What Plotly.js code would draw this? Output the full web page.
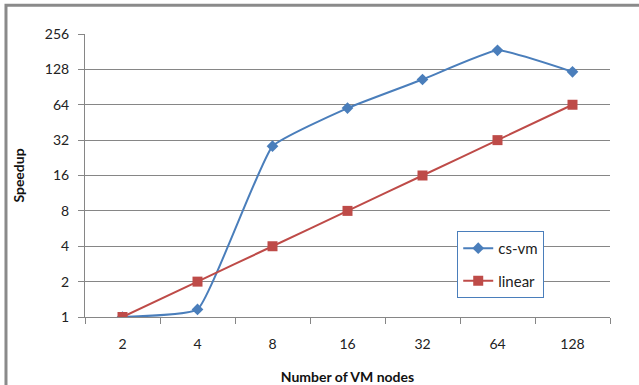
<!DOCTYPE html>
<html><head><meta charset="utf-8">
<script src="https://cdn.plot.ly/plotly-3.0.1.min.js"></script>
<style>body{margin:0;background:#fff}#c{width:639px;height:385px}</style>
</head><body><div id="c"></div>
<script>
var categories = ["2","4","8","16","32","64","128"];
var csvm = [1, 1.16, 28.4, 60, 105, 186, 122];
var linear = [1, 2, 4, 8, 16, 32, 64];
var yTicks = [1, 2, 4, 8, 16, 32, 64, 128, 256];

var traces = [
  {x: categories, y: csvm, name: "cs-vm", legendgroup: "a", type: "scatter", mode: "lines+markers",
   line: {color: "#4A7EBB", width: 2, shape: "spline", smoothing: 0.35},
   marker: {symbol: "diamond", size: 9, color: "#4A7EBB"}},
  {x: categories, y: linear, name: "linear", legendgroup: "b", type: "scatter", mode: "lines+markers",
   line: {color: "#BE4B48", width: 2, shape: "spline", smoothing: 0.35},
   marker: {symbol: "square", size: 10, color: "#BE4B48"}}
];

var layout = {
  width: 639, height: 385,
  margin: {l: 85, r: 29, t: 34, b: 68},
  paper_bgcolor: "#fff", plot_bgcolor: "#fff",
  font: {family: "Lato, 'Open Sans', sans-serif", size: 14, color: "#222"},
  showlegend: true,
  legend: {x: 0.709, y: 0.304, xanchor: "left", yanchor: "top", traceorder: "grouped",
    bordercolor: "#4A7EBB", borderwidth: 1, bgcolor: "#fff",
    font: {size: 15, color: "#222"}, tracegroupgap: 10, itemwidth: 30, entrywidth: 95, entrywidthmode: "pixels"},
  xaxis: {type: "category", range: [-0.5, 6.5], tickson: "boundaries",
    ticks: "outside", ticklen: 6, tickcolor: "#868686", ticklabelstandoff: 14,
    showline: true, linecolor: "#868686", linewidth: 1,
    showgrid: false, zeroline: false, fixedrange: true,
    tickfont: {size: 14, color: "#222"},
    title: {text: "Number of VM nodes", font: {size: 14, color: "#111", weight: "bold"}, standoff: 22}},
  yaxis: {type: "log", range: [0, Math.log10(256)], tickvals: yTicks, ticktext: yTicks.map(String),
    ticks: "outside", ticklen: 6, tickcolor: "#868686", ticklabelstandoff: 6,
    showline: true, linecolor: "#868686", linewidth: 1,
    showgrid: true, gridcolor: "#868686", gridwidth: 1, zeroline: false,
    tickfont: {size: 14, color: "#222"},
    title: {text: "Speedup", font: {size: 14, color: "#111", weight: "bold"}, standoff: 16}},
  shapes: [{type: "rect", xref: "paper", yref: "paper", x0: -0.1505, x1: 1.1, y0: -0.28, y1: 1.102,
    line: {color: "#8a8a8a", width: 3}, fillcolor: "rgba(0,0,0,0)", layer: "below"}]
};
Plotly.newPlot("c", traces, layout, {displayModeBar: false, staticPlot: true});
</script></body></html>
